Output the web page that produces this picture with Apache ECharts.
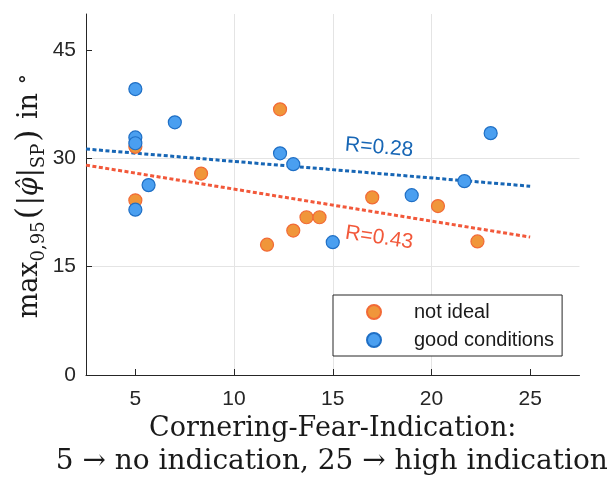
<!DOCTYPE html>
<html>
<head>
<meta charset="utf-8">
<script src="https://cdn.jsdelivr.net/npm/echarts@6/dist/echarts.min.js"></script>
<style>
  html, body { margin: 0; padding: 0; background: #fff; }
  #chart { width: 611px; height: 482px; }
</style>
</head>
<body>
<div id="chart"></div>
<script>
// Each point: [Cornering-Fear-Indication, max_0.95 of |phi_hat| at SP in degrees]
const notIdeal = [
  [5, 31.6], [5, 24.2], [8.33, 27.9], [11.67, 18.05], [12.33, 36.8],
  [13, 20.0], [13.67, 21.85], [14.33, 21.85], [17, 24.6], [20.33, 23.4], [22.33, 18.5]
];
const goodConditions = [
  [5, 39.6], [5, 32.9], [5, 32.1], [5, 22.9], [5.67, 26.3], [7, 35.0],
  [12.33, 30.7], [13, 29.2], [15, 18.4], [19, 24.9], [21.67, 26.85], [23, 33.5]
];
// Linear fit lines, start and end values
const fitNotIdeal = [[2.5, 29.07], [25, 19.1]];
const fitGood = [[2.5, 31.3], [25, 26.15]];
const correlations = ['R=0.28', 'R=0.43'];

const xTicks = [5, 10, 15, 20, 25];
const yTicks = [0, 15, 30, 45];
const seriesNames = ['not ideal', 'good conditions'];

const SANS = '"Liberation Sans", Arial, Helvetica, sans-serif';
const SERIF = '"DejaVu Serif", serif';
const AXIS_COLOR = '#262626';
const GRID_COLOR = '#e4e4e4';

const BLUE_FILL = '#4a9ff0', BLUE_EDGE = '#1f6fc5', BLUE_LINE = '#1766b5';
const ORANGE_FILL = '#f0963a', ORANGE_EDGE = '#f26a36', RED_LINE = '#f2583a';

const chart = echarts.init(document.getElementById('chart'), null, { renderer: 'canvas' });

const axisCommon = {
  type: 'value',
  axisLine: { show: true, onZero: false, lineStyle: { color: AXIS_COLOR, width: 1 } },
  splitLine: { show: true, showMinLine: false, showMaxLine: false, lineStyle: { color: GRID_COLOR, width: 1 } }
};

chart.setOption({
  animation: false,
  backgroundColor: '#fff',
  grid: { left: 86, top: 14, right: 31.5, bottom: 107 },
  xAxis: Object.assign({}, axisCommon, {
    min: 2.5, max: 27.5,
    axisTick: { show: true, inside: true, length: 6, customValues: xTicks, lineStyle: { color: AXIS_COLOR } },
    axisLabel: { customValues: xTicks, fontSize: 21, color: AXIS_COLOR, margin: 14, fontFamily: SANS }
  }),
  yAxis: Object.assign({}, axisCommon, {
    min: 0, max: 50,
    axisTick: { show: true, inside: true, length: 6, customValues: yTicks, lineStyle: { color: AXIS_COLOR } },
    axisLabel: { customValues: yTicks, fontSize: 21, color: AXIS_COLOR, margin: 10, fontFamily: SANS }
  }),
  legend: {
    orient: 'vertical', left: 333, top: 295,
    data: seriesNames,
    icon: 'circle', itemWidth: 14, itemHeight: 14, itemGap: 8,
    padding: [7, 8, 6, 33],
    backgroundColor: '#fff', borderColor: AXIS_COLOR, borderWidth: 1, borderRadius: 0,
    selectedMode: false,
    textStyle: { fontFamily: SANS, fontSize: 20, color: '#1a1a1a', lineHeight: 20, padding: [0, 0, 0, 28] }
  },
  series: [
    {
      type: 'line', data: fitGood, symbol: 'none', silent: true, z: 1,
      lineStyle: { color: BLUE_LINE, width: 3, type: [4, 2.5] }
    },
    {
      type: 'line', data: fitNotIdeal, symbol: 'none', silent: true, z: 1,
      lineStyle: { color: RED_LINE, width: 3, type: [4, 2.5] }
    },
    {
      name: seriesNames[0], type: 'scatter', data: notIdeal, symbolSize: 13, z: 2,
      itemStyle: { color: ORANGE_FILL, borderColor: ORANGE_EDGE, borderWidth: 1.2, opacity: 1 }
    },
    {
      name: seriesNames[1], type: 'scatter', data: goodConditions, symbolSize: 13, z: 3,
      itemStyle: { color: BLUE_FILL, borderColor: BLUE_EDGE, borderWidth: 1.2, opacity: 1 }
    }
  ]
});

// Correlation labels sit next to their fit lines, tilted along them
const toPx = (pt) => chart.convertToPixel({ gridIndex: 0 }, pt);
const rGood = toPx([17.35, 31.5]);
const rNotIdeal = toPx([17.35, 19.0]);
const plotCenterX = toPx([15, 0])[0];

chart.setOption({
  graphic: [
    {
      type: 'text', x: rGood[0], y: rGood[1], rotation: -4.8 * Math.PI / 180, z: 10,
      style: { text: correlations[0], fill: BLUE_LINE, font: '21px ' + SANS, align: 'center', verticalAlign: 'middle' }
    },
    {
      type: 'text', x: rNotIdeal[0], y: rNotIdeal[1], rotation: -8.5 * Math.PI / 180, z: 10,
      style: { text: correlations[1], fill: RED_LINE, font: '21px ' + SANS, align: 'center', verticalAlign: 'middle' }
    },
    {
      // x-axis title, two lines
      type: 'text', x: plotCenterX, y: 429, z: 10,
      style: { text: 'Cornering-Fear-Indication:', fill: '#1a1a1a', font: '27px ' + SERIF, align: 'center', verticalAlign: 'middle' }
    },
    {
      type: 'text', x: plotCenterX - 1, y: 462, z: 10,
      style: { text: '5 \u2192 no indication, 25 \u2192 high indication', fill: '#1a1a1a', font: '28px ' + SERIF, align: 'center', verticalAlign: 'middle' }
    },
    {
      // y-axis title, rotated
      type: 'text', x: 30, y: 196, rotation: Math.PI / 2, z: 10,
      style: {
        text: '{m|max}{s|0,95}{p|(}{m||}{phi|\u03C6\u0302}{m||}{s|SP}{p|)}{m| in }{o|\u2218}',
        align: 'center', verticalAlign: 'middle',
        fill: '#1a1a1a',
        rich: {
          m: { fontFamily: SERIF, fontSize: 27, lineHeight: 36, verticalAlign: 'middle', fill: '#1a1a1a' },
          p: { fontFamily: SERIF, fontSize: 31, lineHeight: 36, verticalAlign: 'middle', fill: '#1a1a1a', padding: [0, 2, 0, 2] },
          phi: { fontFamily: SERIF, fontSize: 27, fontStyle: 'italic', lineHeight: 36, verticalAlign: 'middle', fill: '#1a1a1a' },
          s: { fontFamily: SERIF, fontSize: 18, lineHeight: 16, verticalAlign: 'bottom', fill: '#1a1a1a' },
          o: { fontFamily: SERIF, fontSize: 22, lineHeight: 20, verticalAlign: 'top', fill: '#1a1a1a' }
        }
      }
    }
  ]
});
</script>
</body>
</html>
